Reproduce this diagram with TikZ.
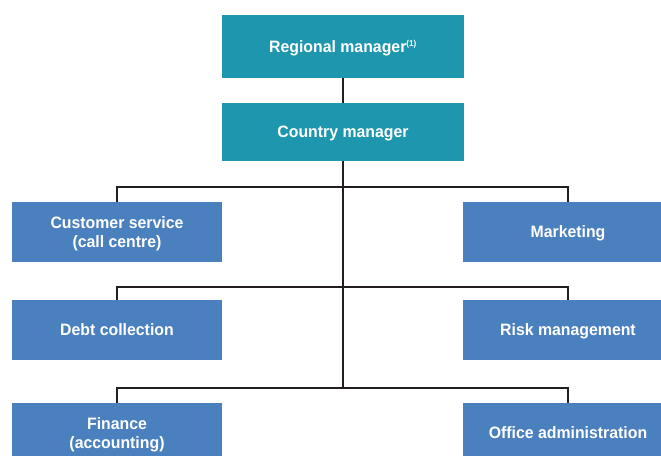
\documentclass[tikz,border=0pt]{standalone}
\usepackage{fontspec}
\setmainfont{Liberation Sans}[FakeStretch=0.96]
\begin{document}
\begin{tikzpicture}[x=1pt,y=-1pt,
  lbl/.style={font=\fontsize{16.5}{19.5}\selectfont\bfseries, text=white, align=center, inner sep=0pt, outer sep=0pt, text depth=0pt},
  topbox/.style={lbl, fill=teal1, minimum width=242pt},
  deptbox/.style={lbl, fill=dept1, minimum width=210pt, minimum height=60pt},
  conn/.style={draw=line1, line width=2.6pt}]
\definecolor{teal1}{HTML}{1E96AE}
\definecolor{dept1}{HTML}{4B80BF}
\definecolor{line1}{HTML}{231F20}
\useasboundingbox (0,0) rectangle (661,455);
\clip (0,0) rectangle (661,455);
% top boxes
\node[topbox, minimum height=63pt] (reg) at (343,46.5) {Regional manager\textsuperscript{\fontsize{8.5}{8.5}\selectfont(1)}};
\node[topbox, minimum height=58pt] (cty) at (343,132) {Country manager};
% departments
\node[deptbox] (cs)  at (117,232) {Customer service\\(call centre)};
\node[deptbox] (mk)  at (568,232) {Marketing};
\node[deptbox] (dc)  at (117,330) {Debt collection};
\node[deptbox] (rm)  at (568,330) {Risk management};
\node[deptbox] (fi)  at (117,433) {Finance\\(accounting)};
\node[deptbox] (oa)  at (568,433) {Office administration};
% junctions
\coordinate (j1) at (343,187);
\coordinate (j2) at (343,287);
\coordinate (j3) at (343,388);
% connectors
\draw[conn] (reg.south) -- (cty.north);
\draw[conn] (cty.south) -- (j3);
\draw[conn] (cs.north) |- (j1) -| (mk.north);
\draw[conn] (dc.north) |- (j2) -| (rm.north);
\draw[conn] (fi.north) |- (j3) -| (oa.north);
\end{tikzpicture}
\end{document}
